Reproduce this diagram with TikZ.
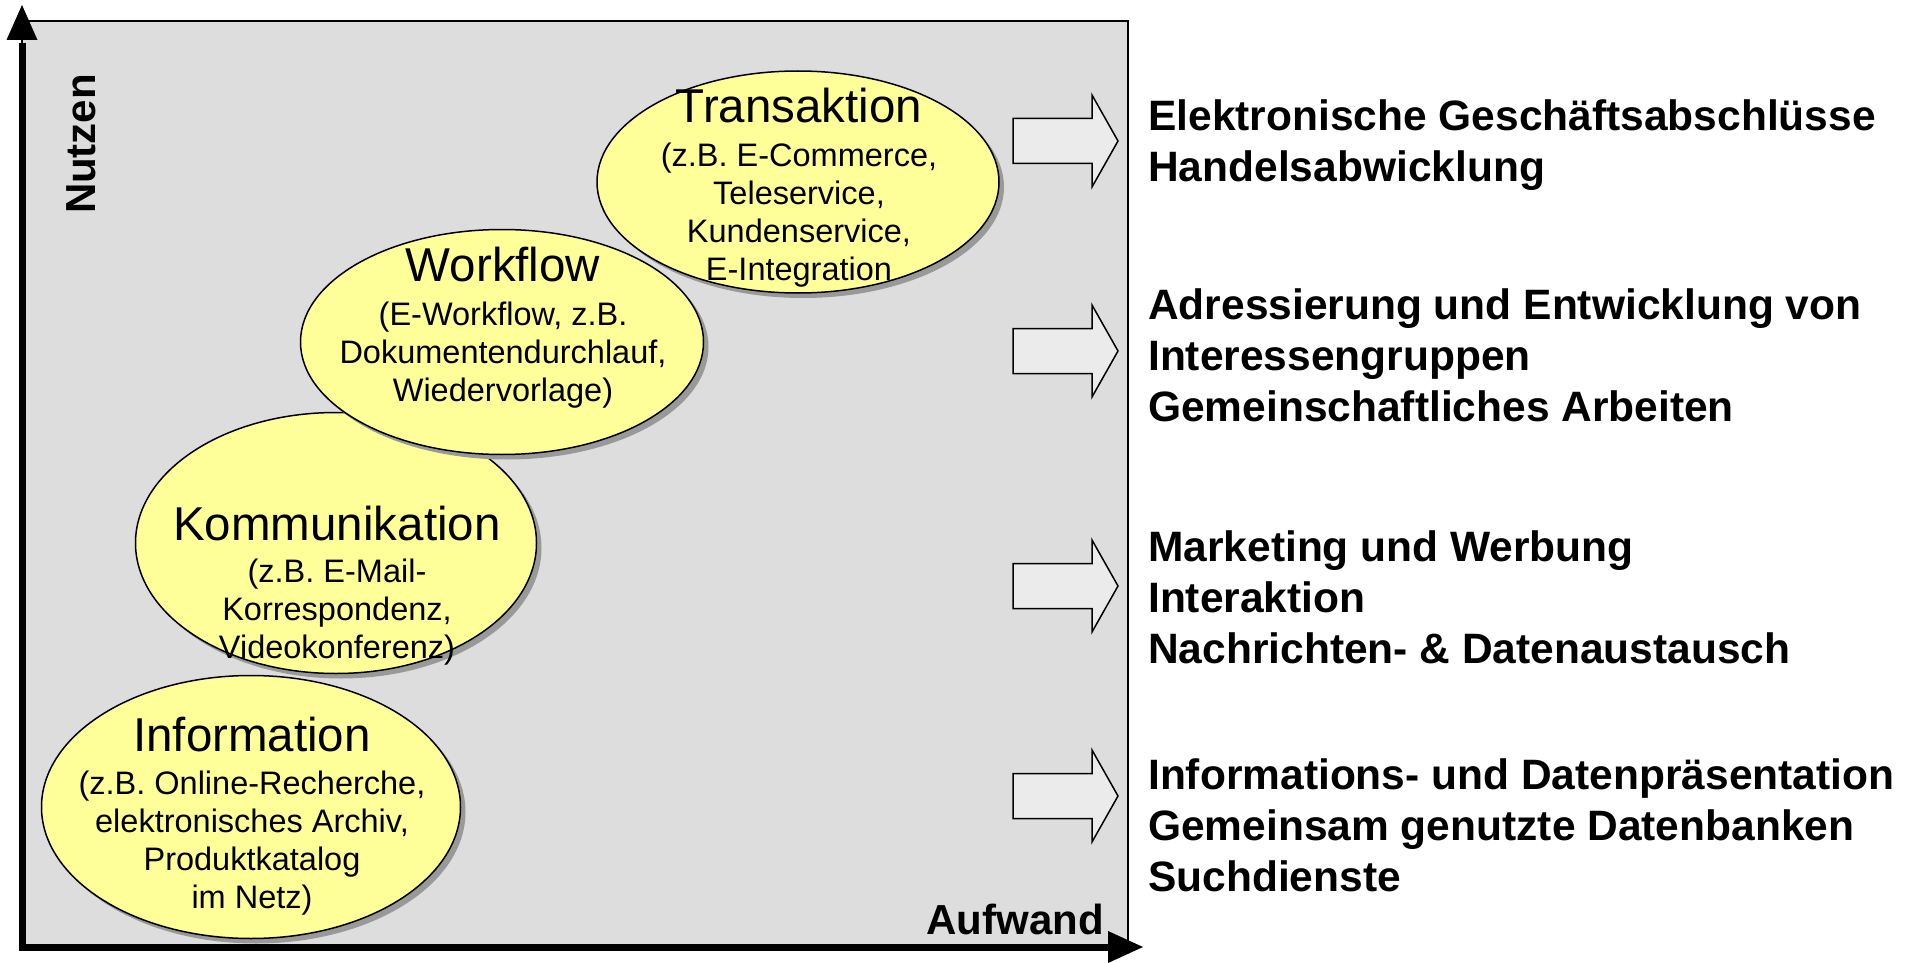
\documentclass[tikz,border=0pt]{standalone}
\usepackage{fontspec}
\setmainfont{Liberation Sans}
\usetikzlibrary{shapes.geometric,shadows}
\definecolor{panel}{HTML}{DDDDDD}
\definecolor{bubble}{HTML}{FFFF99}
\definecolor{blockfill}{HTML}{EBEBEB}
\begin{document}
\begin{tikzpicture}[x=1pt,y=-1pt,
  stage/.style={ellipse, draw=black, line width=1.5pt, fill=bubble, inner sep=0pt,
    drop shadow={shadow xshift=5pt, shadow yshift=-5pt, fill=black!40, opacity=1}},
  stagetext/.style={anchor=north, align=center, inner sep=0pt,
    font=\fontsize{32.5}{38}\selectfont},
  effect/.style={anchor=north west, align=left, inner sep=0pt,
    font=\fontsize{42.5}{51}\selectfont\bfseries},
  axislabel/.style={inner sep=0pt, font=\fontsize{42}{42}\selectfont\bfseries},
  blockarrow/.style={draw=black, line width=1.5pt, fill=blockfill, line join=miter},
  axisline/.style={line width=7pt},
]
\useasboundingbox (0,0) rectangle (1915,963);
\fill[white] (0,0) rectangle (1915,963);

% panel
\draw[fill=panel, line width=1.5pt] (22,21) rectangle (1128,947);

% stages, bottom to top
\node[stage, minimum width=419pt, minimum height=263pt] (info) at (251,807) {};
\node[stagetext] (infotext) at (252,717)
  {{\fontsize{47.5}{47.5}\selectfont Information}\\[5pt]
   (z.B. Online-Recherche,\\ elektronisches Archiv,\\ Produktkatalog\\ im Netz)};

\node[stage, minimum width=401pt, minimum height=261pt] (komm) at (336,543) {};
\node[stagetext] (kommtext) at (337,506)
  {{\fontsize{47.5}{47.5}\selectfont Kommunikation}\\[4pt]
   (z.B. E-Mail-\\ Korrespondenz,\\ Videokonferenz)};

\node[stage, minimum width=403pt, minimum height=225pt] (work) at (502,342) {};
\node[stagetext] (worktext) at (503,247)
  {{\fontsize{47.5}{47.5}\selectfont Workflow}\\[6pt]
   (E-Workflow, z.B.\\ Dokumentendurchlauf,\\ Wiedervorlage)};

\node[stage, minimum width=402pt, minimum height=222pt] (trans) at (798,182) {};
\node[stagetext] (transtext) at (799,88)
  {{\fontsize{47.5}{47.5}\selectfont Transaktion}\\[6pt]
   (z.B. E-Commerce,\\ Teleservice,\\ Kundenservice,\\ E-Integration};

% block arrows
\foreach \yc in {141,351,586,796}
  \draw[blockarrow] (1013,{\yc-22.5}) -- (1092,{\yc-22.5}) -- (1092,{\yc-46})
    -- (1118,\yc) -- (1092,{\yc+46}) -- (1092,{\yc+22.5}) -- (1013,{\yc+22.5}) -- cycle;

% axes
\coordinate (origin) at (22,947);
\coordinate (ytip) at (22,5);
\coordinate (xtip) at (1143,947);
\draw[axisline] ([yshift=-3.5pt]origin) -- ([yshift=-38pt]ytip);
\fill (ytip) -- ++(-15.5,35) -- ++(31,0) -- cycle;
\draw[axisline] ([xshift=-3.5pt]origin) -- ([xshift=-33pt]xtip);
\fill (xtip) -- ++(-35,-16) -- ++(0,32) -- cycle;

\node[axislabel, rotate=90] (nutzen) at (81,144) {Nutzen};
\node[axislabel, anchor=base east] (aufwand) at (1104,934) {Aufwand};

% effects
\node[effect] (e1) at (1148,100) {Elektronische Geschäftsabschlüsse\\Handelsabwicklung};
\node[effect] (e2) at (1148,289) {Adressierung und Entwicklung von\\Interessengruppen\\Gemeinschaftliches Arbeiten};
\node[effect] (e3) at (1148,530) {Marketing und Werbung\\Interaktion\\Nachrichten- \& Datenaustausch};
\node[effect] (e4) at (1148,758) {Informations- und Datenpräsentation\\Gemeinsam genutzte Datenbanken\\Suchdienste};
\end{tikzpicture}
\end{document}
